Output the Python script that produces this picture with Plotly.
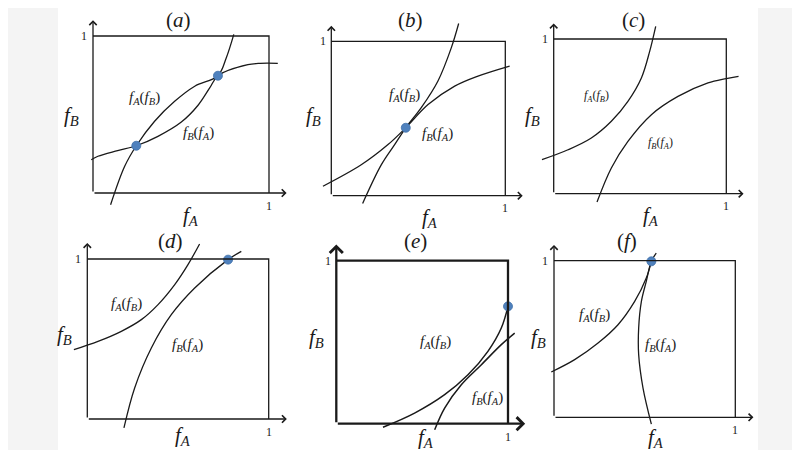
import plotly.graph_objects as go

# points, (f_A, f_B) in units of the unit box
# panel (a)
a_fab_x = [0.10, 0.18, 0.246, 0.35, 0.464, 0.578, 0.71, 0.757, 0.80]
a_fab_y = [-0.075, 0.17, 0.301, 0.457, 0.584, 0.68, 0.747, 0.86, 1.01]
a_fba_x = [-0.01, 0.028, 0.14, 0.246, 0.369, 0.502, 0.597, 0.663, 0.71, 0.88, 0.95, 1.05]
a_fba_y = [0.212, 0.234, 0.27, 0.301, 0.361, 0.452, 0.559, 0.669, 0.747, 0.817, 0.826, 0.826]
a_dot_x = [0.246, 0.71]
a_dot_y = [0.301, 0.747]

# panel (b)
b_fab_x = [0.18, 0.287, 0.364, 0.428, 0.517, 0.613, 0.69, 0.732]
b_fab_y = [-0.05, 0.20, 0.331, 0.44, 0.57, 0.743, 0.959, 1.115]
b_fba_x = [-0.048, 0.172, 0.326, 0.428, 0.556, 0.709, 0.843, 1.025]
b_fba_y = [0.061, 0.20, 0.331, 0.44, 0.59, 0.71, 0.775, 0.84]
b_dot_x = [0.428]
b_dot_y = [0.44]

# panel (c)
c_fab_x = [-0.068, 0.083, 0.218, 0.334, 0.43, 0.508, 0.556, 0.591]
c_fab_y = [0.22, 0.284, 0.36, 0.468, 0.597, 0.748, 0.92, 1.082]
c_fba_x = [0.251, 0.334, 0.43, 0.566, 0.72, 0.894, 1.0, 1.071]
c_fba_y = [-0.054, 0.166, 0.338, 0.511, 0.629, 0.716, 0.744, 0.759]
c_dot_x = []
c_dot_y = []

# panel (d)
d_fab_x = [-0.074, 0.059, 0.1875, 0.298, 0.39, 0.482, 0.555, 0.619]
d_fab_y = [0.433, 0.485, 0.548, 0.621, 0.715, 0.84, 0.965, 1.094]
d_fba_x = [0.202, 0.261, 0.353, 0.463, 0.592, 0.776, 0.849]
d_fba_y = [-0.056, 0.194, 0.444, 0.652, 0.819, 0.996, 1.048]
d_dot_x = [0.776]
d_dot_y = [0.996]

# panel (e)
e_fab_x = [0.272, 0.456, 0.631, 0.767, 0.883, 0.961, 1.0]
e_fab_y = [-0.022, 0.065, 0.178, 0.30, 0.444, 0.587, 0.72]
e_fba_x = [0.573, 0.631, 0.728, 0.845, 0.961, 1.039]
e_fba_y = [-0.037, 0.096, 0.239, 0.362, 0.485, 0.556]
e_dot_x = [1.0]
e_dot_y = [0.72]

# panel (f)
f_fab_x = [-0.015, 0.114, 0.243, 0.353, 0.445, 0.509, 0.537]
f_fab_y = [0.289, 0.368, 0.474, 0.591, 0.74, 0.889, 0.996]
f_fba_x = [0.537, 0.491, 0.467, 0.467, 0.482, 0.509, 0.537, 0.564]
f_fba_y = [-0.043, 0.187, 0.40, 0.57, 0.74, 0.868, 0.996, 1.049]
f_dot_x = [0.537]
f_dot_y = [0.996]

panel_names = ["a", "b", "c", "d", "e", "f"]
curves = {
    "a": (a_fab_x, a_fab_y, a_fba_x, a_fba_y, a_dot_x, a_dot_y),
    "b": (b_fab_x, b_fab_y, b_fba_x, b_fba_y, b_dot_x, b_dot_y),
    "c": (c_fab_x, c_fab_y, c_fba_x, c_fba_y, c_dot_x, c_dot_y),
    "d": (d_fab_x, d_fab_y, d_fba_x, d_fba_y, d_dot_x, d_dot_y),
    "e": (e_fab_x, e_fab_y, e_fba_x, e_fba_y, e_dot_x, e_dot_y),
    "f": (f_fab_x, f_fab_y, f_fba_x, f_fba_y, f_dot_x, f_dot_y),
}

W, H = 800, 450
X_RANGE = [-0.2, 1.2]
Y_RANGE = [-0.2, 1.17]

# unit box of every panel in pixels: left, right, top, bottom
boxes = {
    "a": (85, 261, 28, 185),
    "b": (323.3, 497.3, 33.3, 187.7),
    "c": (545.7, 718.3, 31, 185.7),
    "d": (79.3, 260.7, 251, 411),
    "e": (328.3, 500, 252.7, 415.7),
    "f": (546, 727.3, 252.7, 409.3),
}
# text placement in data units: title, f_B label, f_A label, f_A(f_B) label, f_B(f_A) label
text_pos = {
    "a": ((0.483, 1.10), (-0.125, 0.49), (0.557, -0.146), (0.29, 0.605), (0.60, 0.38)),
    "b": ((0.458, 1.14), (-0.105, 0.518), (0.565, -0.145), (0.42, 0.65), (0.61, 0.40)),
    "c": ((0.46, 1.12), (-0.12, 0.502), (0.564, -0.144), (0.25, 0.63), (0.62, 0.33)),
    "d": ((0.461, 1.11), (-0.125, 0.527), (0.527, -0.106), (0.215, 0.72), (0.555, 0.465)),
    "e": ((0.462, 1.12), (-0.116, 0.526), (0.522, -0.09), (0.58, 0.50), (0.88, 0.16)),
    "f": ((0.404, 1.125), (-0.088, 0.506), (0.564, -0.132), (0.224, 0.656), (0.59, 0.46)),
}

INK = "#1a1a1a"
DOT = "#4f81bd"
SERIF = "Liberation Serif"
LBL_AB = "<i>f</i><sub><i>A</i></sub>(<i>f</i><sub><i>B</i></sub>)"
LBL_BA = "<i>f</i><sub><i>B</i></sub>(<i>f</i><sub><i>A</i></sub>)"

fig = go.Figure()
shapes = [
    dict(type="rect", xref="paper", yref="paper", x0=0, x1=50 / W, y0=0, y1=1,
         fillcolor="#f4f4f4", line_width=0, layer="below"),
    dict(type="rect", xref="paper", yref="paper", x0=750 / W, x1=1, y0=0, y1=1,
         fillcolor="#f4f4f4", line_width=0, layer="below"),
]
annotations = []
axes = {}

for i, name in enumerate(panel_names):
    n = "" if i == 0 else str(i + 1)
    xr, yr = "x" + n, "y" + n
    L, R, T, B = boxes[name]
    bw, bh = R - L, B - T
    axes["xaxis" + n] = dict(
        domain=[(L + X_RANGE[0] * bw) / W, (L + X_RANGE[1] * bw) / W],
        range=X_RANGE, visible=False, anchor=yr, fixedrange=True)
    axes["yaxis" + n] = dict(
        domain=[1 - (B - Y_RANGE[0] * bh) / H, 1 - (B - Y_RANGE[1] * bh) / H],
        range=Y_RANGE, visible=False, anchor=xr, fixedrange=True)

    lw = 2.3 if name == "e" else 1.3
    cw = 1.5 if name == "e" else 1.3

    # top and right sides of the unit box
    shapes.append(dict(type="path", xref=xr, yref=yr, path="M 0,1 L 1,1 L 1,0",
                       line=dict(color=INK, width=lw)))
    # axes with arrow heads
    for tip, tail in (((1.1, 0), (0, 0)), ((0, 1.1), (0, 0))):
        annotations.append(dict(x=tip[0], y=tip[1], ax=tail[0], ay=tail[1],
                                xref=xr, yref=yr, axref=xr, ayref=yr, text="",
                                showarrow=True, arrowhead=4, arrowsize=1.1,
                                arrowwidth=lw, arrowcolor=INK, standoff=0))

    fab_x, fab_y, fba_x, fba_y, dot_x, dot_y = curves[name]
    for cx, cy in ((fab_x, fab_y), (fba_x, fba_y)):
        fig.add_trace(go.Scatter(x=cx, y=cy, mode="lines", xaxis=xr, yaxis=yr,
                                 line=dict(color=INK, width=cw, shape="spline", smoothing=1),
                                 hoverinfo="skip", showlegend=False))
    if dot_x:
        fig.add_trace(go.Scatter(x=dot_x, y=dot_y, mode="markers", xaxis=xr, yaxis=yr,
                                 marker=dict(color=DOT, size=9, line=dict(color="#3e6ea8", width=0.8)),
                                 hoverinfo="skip", showlegend=False, cliponaxis=False))

    title, fb, fa, lab_ab, lab_ba = text_pos[name]
    curve_size = 12 if name == "c" else 15
    texts = [
        (title, f"(<i>{name}</i>)", 21),
        (fb, "<i>f</i><sub><i>B</i></sub>", 21),
        (fa, "<i>f</i><sub><i>A</i></sub>", 21),
        (lab_ab, LBL_AB, curve_size),
        (lab_ba, LBL_BA, curve_size),
        ((-0.05, 1.0), "1", 12),
        ((1.0, -0.08), "1", 12),
    ]
    for (tx, ty), txt, size in texts:
        annotations.append(dict(x=tx, y=ty, xref=xr, yref=yr, text=txt, showarrow=False,
                                font=dict(family=SERIF, size=size, color=INK)))

fig.update_layout(
    width=W, height=H,
    margin=dict(l=0, r=0, t=0, b=0),
    paper_bgcolor="white", plot_bgcolor="rgba(0,0,0,0)",
    font=dict(family=SERIF, color=INK),
    shapes=shapes, annotations=annotations,
    showlegend=False,
    **axes,
)

fig.write_html("out.html")
